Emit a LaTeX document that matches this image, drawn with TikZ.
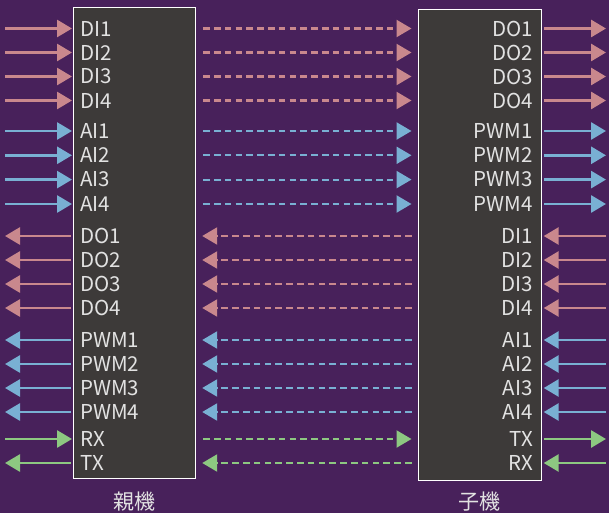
\documentclass[tikz,border=0pt]{standalone}
\usepackage{fontspec}
\setmainfont{Noto Sans CJK JP}
\usetikzlibrary{arrows.meta}
\definecolor{bg}{HTML}{48215B}
\definecolor{boxfill}{HTML}{3D3A39}
\definecolor{cpink}{HTML}{C9888D}
\definecolor{cblue}{HTML}{79B0D3}
\definecolor{cgreen}{HTML}{8DC881}
\definecolor{txt}{HTML}{E2E2E2}
\begin{document}
\begin{tikzpicture}[x=1pt,y=-1pt,
  unitbox/.style={draw=white, line width=1.2pt, fill=boxfill, inner sep=0pt, anchor=north west},
  lbl/.style={text=txt, font=\fontsize{20.5}{20.5}\selectfont, inner sep=0pt},
  ttl/.style={text=txt, font=\fontsize{21}{21}\selectfont, inner sep=0pt},
  solidarr/.style={line width=2.8pt, -{Triangle[length=15pt,width=17pt]}},
  dasharr/.style={line width=2.2pt, dash pattern=on 6.5pt off 4.3pt, -{Triangle[length=15pt,width=17pt]}},
]
\fill[bg] (0,0) rectangle (609,513);
\useasboundingbox (0,0) rectangle (609,513);
\node[unitbox, minimum width=122pt, minimum height=471pt] (parent) at (73,7) {};
\node[unitbox, minimum width=123pt, minimum height=471pt] (child) at (417.5,9) {};
\foreach \y/\lt/\rt/\c/\d [count=\i] in {
  28.5/DI1/DO1/cpink/1, 52.5/DI2/DO2/cpink/1, 76.5/DI3/DO3/cpink/1, 100.5/DI4/DO4/cpink/1,
  131/AI1/PWM1/cblue/1, 155.3/AI2/PWM2/cblue/1, 179.6/AI3/PWM3/cblue/1, 204/AI4/PWM4/cblue/1,
  236/DO1/DI1/cpink/0, 260/DO2/DI2/cpink/0, 284/DO3/DI3/cpink/0, 308/DO4/DI4/cpink/0,
  340/PWM1/AI1/cblue/0, 364/PWM2/AI2/cblue/0, 388/PWM3/AI3/cblue/0, 412/PWM4/AI4/cblue/0,
  439/RX/TX/cgreen/1, 463/TX/RX/cgreen/0} {
  \node[lbl, anchor=west] (pl\i) at (80,\y) {\lt};
  \node[lbl, anchor=east] (cl\i) at (533,\y) {\rt};
  \coordinate (xl\i) at (5,\y);
  \coordinate (xr\i) at (606,\y);
  \coordinate (pe\i) at (parent.west |- pl\i);
  \coordinate (pr\i) at (parent.east |- pl\i);
  \coordinate (cw\i) at (child.west |- cl\i);
  \coordinate (ce\i) at (child.east |- cl\i);
  \ifnum\d=1
    \draw[solidarr, \c, shorten >=1pt] (xl\i) -- (pe\i);
    \draw[dasharr, \c, shorten <=7pt, shorten >=6pt] (pr\i) -- (cw\i);
    \draw[solidarr, \c, shorten <=2.5pt] (ce\i) -- (xr\i);
  \else
    \draw[solidarr, \c, shorten <=2pt] (pe\i) -- (xl\i);
    \draw[dasharr, \c, shorten <=6pt, shorten >=6pt] (cw\i) -- (pr\i);
    \draw[solidarr, \c, shorten >=2pt] (xr\i) -- (ce\i);
  \fi
}
\node[ttl] (t1) at (134,502) {親機};
\node[ttl] (t2) at (479,502) {子機};
\end{tikzpicture}
\end{document}
